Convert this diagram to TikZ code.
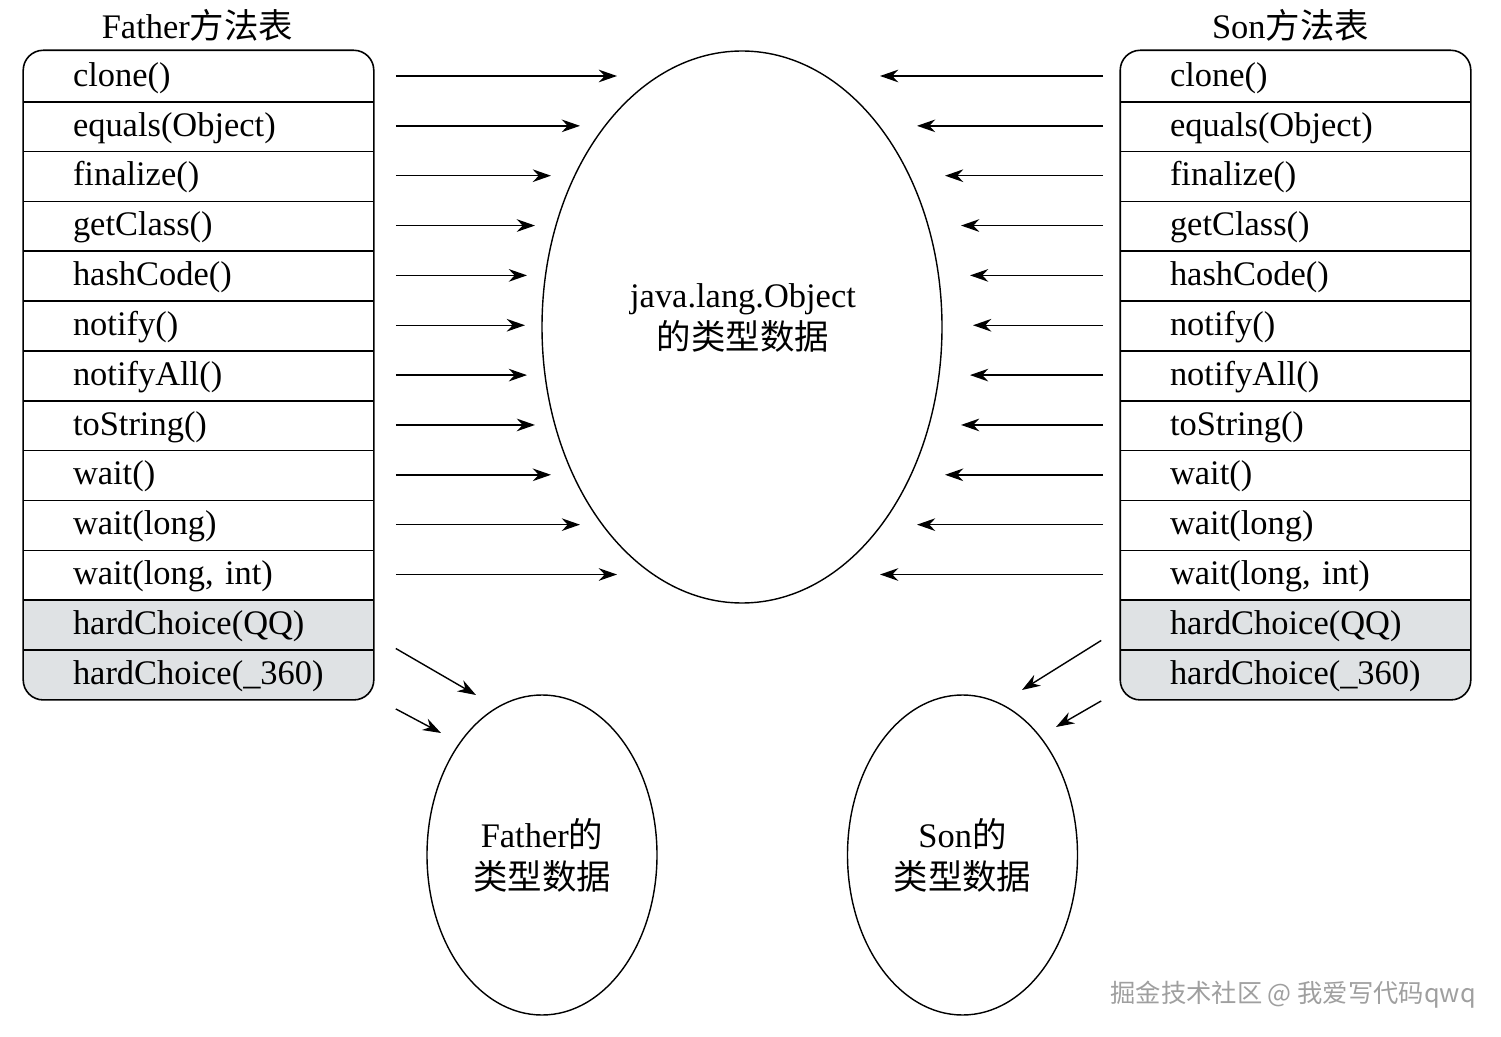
\documentclass[tikz,border=0pt]{standalone}
\usepackage{fontspec}
\setmainfont{Liberation Serif}
\newfontfamily\cjk{Noto Sans CJK SC}
\usetikzlibrary{shapes.geometric,arrows.meta,backgrounds}
\definecolor{rowgray}{RGB}{223,226,228}

\begin{document}
\begin{tikzpicture}[
    every node/.style={font=\fontsize{9.8}{11.9}\selectfont},
    line width=0.45pt,
    row/.style={minimum width=3.49cm, minimum height=0.4985cm, text width=2.51cm,
        align=left, inner sep=0pt, text height=6.6pt, text depth=0.8pt},
    arr/.style={-{Stealth[length=5.2pt,width=3.6pt]}, line width=0.4pt},
    blob/.style={draw, ellipse, line width=0.4pt, inner sep=0pt}
]
\useasboundingbox (0,0) rectangle (15.01,-10.37);

% method tables
\foreach \m [count=\i] in {clone(), equals(Object), finalize(), getClass(), hashCode(),
    notify(), notifyAll(), toString(), wait(), wait(long), {wait(long, int)},
    hardChoice(QQ), hardChoice(\_360)} {
    \node[row] (f\i) at (1.985, {-0.76-(\i-1)*0.4985}) {\m};
    \node[row] (s\i) at (12.955, {-0.76-(\i-1)*0.4985}) {\m};
}
\begin{scope}[on background layer]
    \begin{scope}
        \clip[rounded corners=0.2cm] (f1.north west) rectangle (f13.south east);
        \fill[rowgray] (f12.north west) rectangle (f13.south east);
    \end{scope}
    \begin{scope}
        \clip[rounded corners=0.2cm] (s1.north west) rectangle (s13.south east);
        \fill[rowgray] (s12.north west) rectangle (s13.south east);
    \end{scope}
\end{scope}
\foreach \tb in {f,s} {
    \draw[rounded corners=0.2cm] (\tb1.north west) rectangle (\tb13.south east);
    \foreach \i in {1,...,12}
        \draw (\tb\i.south west) -- (\tb\i.south east);
}
\node (ftitle) at (1.975,-0.25) {Father{\cjk 方法表}};
\node (stitle) at (12.905,-0.25) {Son{\cjk 方法表}};

% type data
\node[blob, minimum width=4cm, minimum height=5.52cm] (obj) at (7.42,-3.27) {};
\node[align=center] (objtxt) at (7.43,-3.18) {java.lang.Object\\{\cjk 的类型数据}};
\node[blob, minimum width=2.3cm, minimum height=3.2cm, align=center] (fa) at (5.42,-8.55)
    {Father{\cjk 的}\\{\cjk 类型数据}};
\node[blob, minimum width=2.3cm, minimum height=3.2cm, align=center] (so) at (9.625,-8.55)
    {Son{\cjk 的}\\{\cjk 类型数据}};

% inherited methods
\foreach \i/\x in {1/6.17, 2/5.80, 3/5.51, 4/5.35, 5/5.27, 6/5.25, 7/5.27, 8/5.35,
    9/5.51, 10/5.80, 11/6.17}
    \draw[arr] ([xshift=0.22cm]f\i.east) -- (\x,0 |- f\i);
\foreach \i/\x in {1/8.80, 2/9.17, 3/9.45, 4/9.61, 5/9.70, 6/9.73, 7/9.70, 8/9.61,
    9/9.45, 10/9.17, 11/8.80}
    \draw[arr] ([xshift=-0.17cm]s\i.west) -- (\x,0 |- s\i);

% own methods
\coordinate (fqq) at (4.76,-6.95);
\coordinate (f360) at (4.41,-7.33);
\coordinate (sqq) at (10.22,-6.90);
\coordinate (s360) at (10.56,-7.27);
\draw[arr] ([xshift=0.22cm]f13.north east) -- (fqq);
\draw[arr] ([shift={(0.22cm,-0.09cm)}]f13.south east) -- (f360);
\draw[arr] ([shift={(-0.19cm,0.08cm)}]s13.north west) -- (sqq);
\draw[arr] ([shift={(-0.19cm,-0.01cm)}]s13.south west) -- (s360);

\node[text=gray!75, font=\cjk\fontsize{7.2}{8}\selectfont, anchor=west] (mark)
    at (10.98,-9.95) {掘金技术社区 @ 我爱写代码qwq};
\end{tikzpicture}
\end{document}
